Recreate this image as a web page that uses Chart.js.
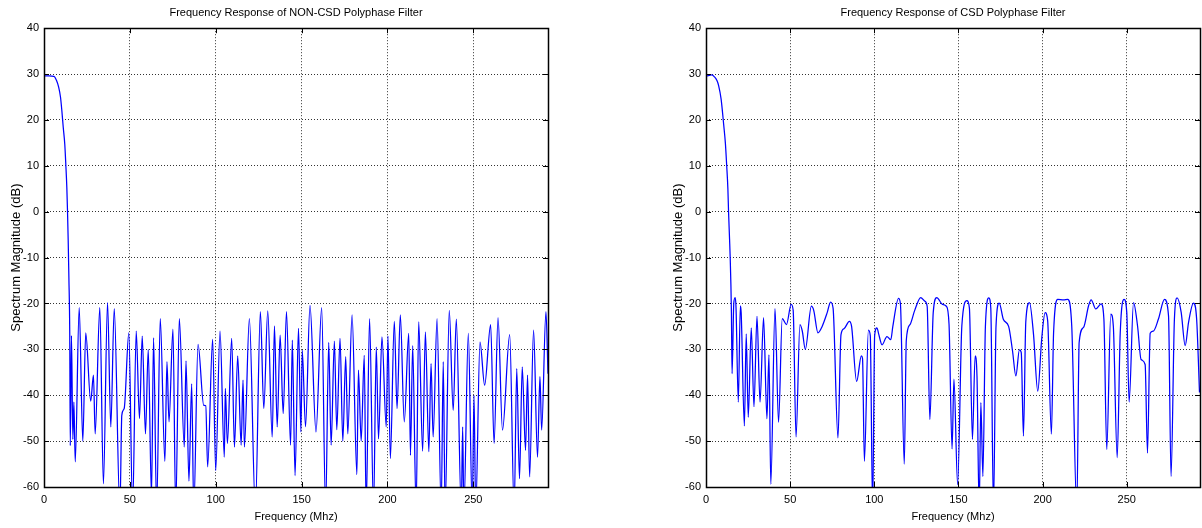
<!DOCTYPE html>
<html>
<head>
<meta charset="utf-8">
<title>Polyphase Filter Frequency Response</title>
<script src="https://cdn.jsdelivr.net/npm/chart.js@4/dist/chart.umd.min.js"></script>
<style>
  html, body { margin: 0; padding: 0; background: #fff; }
  #wrap { position: relative; width: 1202px; height: 528px; overflow: hidden; background: #fff; }
  .pane { position: absolute; top: 0; height: 528px; }
  canvas { display: block; }
</style>
</head>
<body>
<div id="wrap">
  <div class="pane" style="left:0;width:600px"><canvas id="nonCsdChart" width="600" height="528"></canvas></div>
  <div class="pane" style="left:600px;width:602px"><canvas id="csdChart" width="602" height="528"></canvas></div>
</div>
<script>
// Axis ticks shared by both plots
const freqTicks = [0, 50, 100, 150, 200, 250];
const magTicks = [-60, -50, -40, -30, -20, -10, 0, 10, 20, 30, 40];
const freqMax = 293.5;

// [frequency (MHz), magnitude (dB)] for the NON-CSD filter
const nonCsdResponse = [
  [0,29.6],[3,29.6],[5.8,29.5],[7.3,28.6],[8.5,27.2],[9.6,25],[10.4,22],[11.2,18.4],[12.1,14.7],[12.7,10.3],
  [13.3,5.2],[13.7,0],[14.1,-6.5],[14.5,-14.5],[15,-27],[15.3,-51],[16.0,-27],[16.8,-49.6],[17.4,-41.5],[18.2,-54.5],
  [20.5,-20.9],[22.6,-50],[24.3,-26.4],[27.2,-41.3],[28.8,-35.6],[29.8,-48.4],[32.5,-20.9],[34.6,-59.3],[37.0,-19.8],[38.9,-46.9],
  [40.9,-21.1],[44.2,-65],[45.3,-44.4],[46.7,-42.9],[49.4,-26.4],[51.6,-65],[53.7,-26],[55.6,-45.1],[57.2,-27.1],[59.1,-48.4],
  [60.7,-30],[62.6,-62],[63.8,-27.5],[65.6,-65],[67.7,-23.3],[70.4,-54.4],[71.6,-32.7],[72.8,-45.8],[75.1,-25.6],[76.7,-65],
  [78.8,-23.3],[81.7,-51.3],[82.7,-32.5],[84.4,-58.7],[86.0,-37.5],[87.2,-65],[89.7,-28.9],[93.0,-42.2],[94.2,-42.3],[95.3,-55.6],
  [98.2,-27.8],[100.0,-56.4],[102.5,-26],[105.0,-53.5],[105.6,-38.5],[106.8,-50.5],[109.3,-27.6],[110.9,-51.3],[112.8,-31.4],[114.8,-50.9],
  [115.9,-36.7],[116.7,-51.3],[119.6,-23.3],[123.1,-65],[126.0,-21.8],[128.0,-42.9],[130.3,-21.6],[132.9,-49.1],[134.2,-24.9],[135.8,-46.9],
  [137.5,-26.9],[139.3,-44],[141.2,-21.8],[143.6,-50.9],[144.6,-28],[146.2,-57.5],[148.2,-25.4],[149.6,-48],[150.4,-30.2],[152.3,-46.9],
  [154.9,-20.4],[158.4,-48],[161.7,-20.9],[164.0,-65],[165.8,-28.5],[167.2,-50.9],[169.1,-28.2],[170.5,-47.5],[172.4,-27.6],[174.0,-50],
  [175.7,-31.6],[176.9,-48.4],[179.4,-22.5],[182.2,-57.3],[183.1,-34.5],[184.7,-50],[186.5,-31.3],[187.6,-65],[189.6,-23.3],[191.9,-65],
  [193.5,-29.5],[194.8,-49.5],[196.8,-27.3],[199.3,-46.9],[200.3,-27.1],[201.7,-53.8],[204.0,-23.9],[205.6,-42.9],[207.5,-22.5],[209.8,-45.8],
  [212.4,-26.5],[213.4,-53.1],[214.7,-29.2],[216.7,-65],[218.2,-24],[220.5,-52.2],[222.1,-26.2],[224.1,-52.3],[225.4,-33.1],[226.6,-49.1],
  [228.9,-23.3],[231.3,-65],[232.5,-32.7],[233.6,-65],[236.0,-21.5],[238.3,-43.3],[240.1,-23.4],[243.0,-65],[243.8,-46.9],[244.5,-65],
  [247.1,-26.5],[249.4,-65],[250.4,-40],[251.4,-65],[253.9,-28.4],[256.6,-37.8],[260.1,-24.6],[262.1,-50.5],[264.4,-23.1],[267.0,-47.6],
  [271.2,-26.8],[273.8,-65],[275.3,-34.2],[276.9,-58.2],[278.5,-33.8],[280.4,-52],[281.6,-35.6],[282.8,-57.8],[285.1,-25.8],[287.4,-53.5],
  [288.8,-35.9],[289.8,-47.6],[292.3,-21.8],[293.5,-35.3]
];

// [frequency (MHz), magnitude (dB)] for the CSD filter
const csdResponse = [
  [0,29.6],[2,29.7],[3.5,29.8],[5,29.4],[6.5,28.6],[7.5,27.5],[9,24.5],[10.5,19],[11.5,15],[12.3,10],
  [13,5],[13.4,0],[14,-6],[14.4,-10.3],[14.8,-16],[15.1,-22],[15.5,-35.3],[16.5,-20],[17.3,-18.7],[17.8,-20.5],
  [19.2,-41.5],[20.4,-20.5],[20.9,-22],[22.8,-46.7],[23.9,-26.6],[25.1,-44.8],[26.9,-25.3],[28.5,-42.5],[30.3,-22.8],[32.1,-41.5],
  [34.2,-23.1],[36.2,-45.1],[37.4,-31.2],[38.5,-59.4],[41.0,-21.1],[43.1,-45.9],[45.3,-23.3],[47.8,-24.6],[50.6,-20.2],[51.8,-21.5],
  [53.5,-49.1],[55.8,-24.6],[57.2,-26],[59.0,-30],[62.6,-20.6],[64.0,-21.5],[66.5,-26.4],[69,-25],[72,-22],[74.0,-19.7],
  [75.5,-21],[78.4,-49.3],[80.2,-26.8],[82,-25.5],[85.2,-23.9],[86.5,-25],[89.5,-37],[92.3,-31.4],[93,-32],[94.1,-54.4],
  [96.5,-25.8],[97.6,-27],[99.0,-65],[100.2,-27],[101.6,-25.3],[102.5,-26.5],[104.6,-29],[107.5,-27.2],[109.8,-27.9],[111,-25],
  [114.4,-18.9],[115.5,-20],[117.8,-55],[119,-28],[121.2,-24.6],[124,-21.5],[127.6,-18.7],[130,-19.5],[131.4,-20.6],[133.0,-45.3],
  [135,-22],[137.1,-18.7],[140.5,-20.2],[142.8,-20.6],[144.4,-24.6],[146.2,-51.7],[147.3,-36.5],[149.5,-59.5],[152,-24.9],[155,-19.4],
  [156.5,-21],[158.3,-49.6],[159.9,-31.4],[161,-35.8],[162.3,-65],[163.3,-41.6],[164.5,-57.7],[166,-25],[168.0,-18.8],[169.2,-21],
  [170.8,-65],[172.3,-25],[174.2,-19.9],[176.7,-23.5],[179.8,-25],[182.1,-30.3],[184.1,-35.8],[186.2,-30.1],[187.3,-30.7],[188.6,-48.9],
  [190,-24],[192.2,-19.8],[194.6,-26.8],[197.1,-39.1],[199.5,-27.5],[201.5,-22],[203,-23.8],[205.2,-48.5],[206.5,-26.5],[209,-19.1],
  [212.4,-19.2],[214.9,-19.1],[217.3,-24.9],[220.3,-65],[221.7,-28.5],[224.3,-25.2],[227.3,-20.5],[228.8,-19.2],[231.6,-21.2],[234.8,-20.1],
  [236.4,-23.4],[238.1,-51.8],[240.5,-22.3],[242,-24.9],[244.3,-53.6],[246.1,-26.5],[248.4,-19.1],[250,-22],[251.4,-41.5],[254,-19.8],
  [256.4,-24.9],[258.5,-32.2],[260.9,-33.3],[262.3,-52.6],[263.9,-26.5],[265.8,-26],[268.8,-23.4],[272.4,-19.1],[274.8,-22.7],[276.3,-57.7],
  [278.3,-23.4],[279.9,-18.8],[282.3,-21.9],[284.7,-29.2],[286.7,-24.1],[289.6,-19.9],[291.5,-23.4],[293.2,-39.4]
];

Chart.defaults.font.family = '"Liberation Sans", Arial, Helvetica, sans-serif';
Chart.defaults.font.size = 11;
Chart.defaults.color = '#000';

// Solid box round the plot area plus short inward tick marks on all four sides
const boxAndTicks = {
  id: 'boxAndTicks',
  afterDatasetsDraw(chart) {
    const { ctx, chartArea: a, scales } = chart;
    const len = 5;
    ctx.save();
    ctx.strokeStyle = '#000';
    ctx.lineWidth = 1;
    ctx.beginPath();
    freqTicks.forEach(v => {
      const px = Math.round(scales.x.getPixelForValue(v)) + 0.5;
      ctx.moveTo(px, a.bottom); ctx.lineTo(px, a.bottom - len);
      ctx.moveTo(px, a.top); ctx.lineTo(px, a.top + len);
    });
    magTicks.forEach(v => {
      const py = Math.round(scales.y.getPixelForValue(v)) + 0.5;
      ctx.moveTo(a.left, py); ctx.lineTo(a.left + len, py);
      ctx.moveTo(a.right, py); ctx.lineTo(a.right - len, py);
    });
    ctx.stroke();
    ctx.lineWidth = 1.5;
    ctx.strokeRect(Math.round(a.left) + 0.5, Math.round(a.top) + 0.5,
                   Math.round(a.right - a.left), Math.round(a.bottom - a.top));
    ctx.restore();
  }
};

function makeChart(canvasId, titleText, series, padLeft, padRight) {
  return new Chart(document.getElementById(canvasId), {
    type: 'line',
    data: {
      datasets: [{
        data: series.map(([f, m]) => ({ x: f, y: m })),
        borderColor: '#0000ff',
        borderWidth: 1.25,
        pointRadius: 0,
        fill: false,
        cubicInterpolationMode: 'monotone'
      }]
    },
    options: {
      responsive: false,
      animation: false,
      devicePixelRatio: 1,
      layout: { padding: { left: padLeft, right: padRight, top: 0, bottom: 0 } },
      plugins: {
        legend: { display: false },
        tooltip: { enabled: false },
        title: {
          display: true,
          text: titleText,
          fullSize: false,
          color: '#000',
          font: { size: 11, weight: 'normal' },
          padding: { top: 6, bottom: 9 }
        }
      },
      scales: {
        x: {
          type: 'linear',
          min: 0,
          max: freqMax,
          afterBuildTicks: s => { s.ticks = freqTicks.map(v => ({ value: v })); },
          afterFit: s => { s.height = 41; },
          ticks: { includeBounds: false, maxRotation: 0, padding: 6, color: '#000', font: { size: 11 } },
          grid: { color: '#333', lineWidth: 1, drawTicks: false },
          border: { display: false, dash: [1, 2] },
          title: { display: true, text: 'Frequency (Mhz)', color: '#000', font: { size: 11 }, padding: { top: 0, bottom: 4 } }
        },
        y: {
          type: 'linear',
          min: -60,
          max: 40,
          afterBuildTicks: s => { s.ticks = magTicks.map(v => ({ value: v })); },
          afterFit: s => { s.width = 44; },
          ticks: { padding: 5, color: '#000', font: { size: 11 } },
          grid: { color: '#333', lineWidth: 1, drawTicks: false },
          border: { display: false, dash: [1, 2] },
          title: { display: true, text: 'Spectrum Magnitude (dB)', color: '#000', font: { size: 13 }, padding: { top: 9, bottom: 0 } }
        }
      }
    },
    plugins: [boxAndTicks]
  });
}

makeChart('nonCsdChart', 'Frequency Response of NON-CSD Polyphase Filter', nonCsdResponse, 0, 52);
makeChart('csdChart', 'Frequency Response of CSD Polyphase Filter', csdResponse, 62, 2);
</script>
</body>
</html>
